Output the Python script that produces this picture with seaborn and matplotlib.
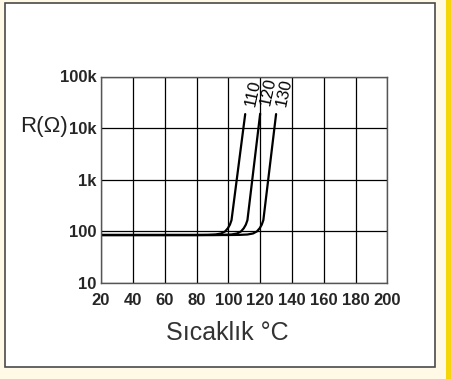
import matplotlib
matplotlib.use("Agg")
import matplotlib.pyplot as plt
from matplotlib.patches import Rectangle
import seaborn as sns
import pandas as pd

# Data (temperature °C, resistance Ω)
temp_110 = [20, 80, 87, 92, 95.5, 98, 99.7, 101, 102, 110.6]
res_110 = [85, 85, 85.5, 87, 91, 100, 115, 135, 165, 18700]
temp_120 = [20, 90, 97, 102, 105.5, 108, 109.7, 111, 112, 120]
res_120 = [85, 85, 85.5, 87, 91, 100, 115, 135, 165, 19000]
temp_130 = [20, 100, 107, 112, 115.5, 118, 119.7, 121, 122, 130]
res_130 = [85, 85, 85.5, 87, 91, 100, 115, 135, 165, 18700]
curve_names = ["110", "120", "130"]

x_ticks = [20, 40, 60, 80, 100, 120, 140, 160, 180, 200]
y_ticks = [10, 100, 1000, 10000, 100000]
y_tick_labels = ["10", "100", "1k", "10k", "100k"]

frames = []
for name, t, r in zip(curve_names, [temp_110, temp_120, temp_130],
                      [res_110, res_120, res_130]):
    frames.append(pd.DataFrame({"T": t, "R": r, "curve": name}))
df = pd.concat(frames, ignore_index=True)

sns.set_style("white")
plt.rcParams["font.family"] = ["Liberation Sans", "DejaVu Sans"]

fig = plt.figure(figsize=(4.51, 3.79), dpi=100)
fig.patch.set_facecolor("#fff9e6")

# white panel with dark border and yellow stripe
fig.patches.append(Rectangle((5 / 451, 1 - 367 / 379), 430 / 451, 364 / 379,
                             transform=fig.transFigure, facecolor="white",
                             edgecolor="#4a4a4a", linewidth=1.2, zorder=-5))
fig.patches.append(Rectangle((446 / 451, 0), 5 / 451, 1,
                             transform=fig.transFigure, facecolor="#f5d60a",
                             edgecolor="none", zorder=-5))

ax = fig.add_axes([101 / 451, 1 - 283 / 379, 286.5 / 451, 206.5 / 379])
ax.set_zorder(2)
ax.set_facecolor("white")

sns.lineplot(data=df, x="T", y="R", hue="curve", units="curve", estimator=None,
             sort=False, palette=["black"] * 3, linewidth=1.6, legend=False, ax=ax)

ax.set_yscale("log")
ax.set_xlim(20, 200)
ax.set_ylim(10, 100000)
ax.set_xticks(x_ticks)
ax.set_xticklabels([str(v) for v in x_ticks], fontweight="bold", fontsize=12)
ax.set_yticks(y_ticks)
ax.set_yticklabels(y_tick_labels, fontweight="bold", fontsize=12)
ax.minorticks_off()
ax.tick_params(axis="x", length=0, pad=7)
ax.tick_params(axis="y", length=0, pad=3)
ax.grid(True, which="major", color="black", linewidth=0.9)
for s in ax.spines.values():
    s.set_color("#555555")
    s.set_linewidth(1.0)

ax.set_xlabel("")
ax.set_ylabel("")

# curve labels
for name, t, r in zip(curve_names, [temp_110, temp_120, temp_130],
                      [res_110, res_120, res_130]):
    ax.annotate(name, xy=(t[-1], r[-1]), xytext=(4, 6), textcoords="offset points",
                rotation=78, rotation_mode="anchor", ha="left", va="center",
                fontsize=12, color="black")

fig.text(20 / 451, 1 - 127 / 379, "R(Ω)", fontsize=16, ha="left", va="center",
         color="#222222")
fig.text(227 / 451, 1 - 333 / 379, "Sıcaklık °C", fontsize=18, ha="center",
         va="center", color="#333333")

fig.savefig("out.png", dpi=100, facecolor=fig.get_facecolor())
